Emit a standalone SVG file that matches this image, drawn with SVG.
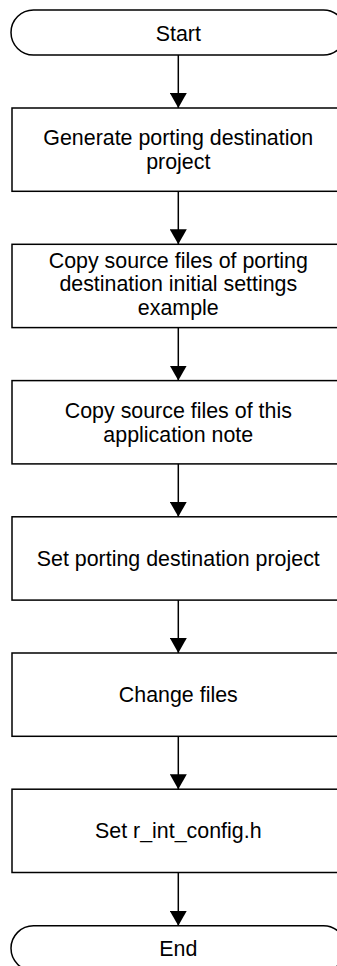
<svg xmlns="http://www.w3.org/2000/svg" width="337" height="966" viewBox="0 0 337 966">
<style>
.shape{fill:#fff;stroke:#000;stroke-width:1.5}
.lbl{font-family:"Liberation Sans",Arial,sans-serif;font-size:21.4px;fill:#000;text-anchor:middle}
.conn{stroke:#000;stroke-width:1.5;fill:none}
</style>
<defs>
<marker id="arr" markerUnits="userSpaceOnUse" markerWidth="16" markerHeight="17" refX="15" refY="8.5" orient="auto" viewBox="0 0 16 17">
<path d="M0,0 L15,8.5 L0,17 Z" fill="#000"/>
</marker>
</defs>
<rect width="337" height="966" fill="#fff"/>
<g id="start">
<rect class="shape" x="11" y="10" width="335" height="45" rx="22.5" ry="22.5"/>
<text class="lbl" x="178.3" y="40.5">Start</text>
</g>
<g id="n1">
<rect class="shape" x="12" y="108" width="333" height="83.3"/>
<text class="lbl" x="178.3" y="145">Generate porting destination</text>
<text class="lbl" x="178.3" y="168.5">project</text>
</g>
<g id="n2">
<rect class="shape" x="12" y="244.3" width="333" height="83.3"/>
<text class="lbl" x="178.3" y="267.7">Copy source files of porting</text>
<text class="lbl" x="178.3" y="291.3">destination initial settings</text>
<text class="lbl" x="178.3" y="315">example</text>
</g>
<g id="n3">
<rect class="shape" x="12" y="380.6" width="333" height="83.3"/>
<text class="lbl" x="178.3" y="418">Copy source files of this</text>
<text class="lbl" x="178.3" y="441.5">application note</text>
</g>
<g id="n4">
<rect class="shape" x="12" y="516.8" width="333" height="83.3"/>
<text class="lbl" x="178.3" y="565.5">Set porting destination project</text>
</g>
<g id="n5">
<rect class="shape" x="12" y="653" width="333" height="83.3"/>
<text class="lbl" x="178.3" y="701.7">Change files</text>
</g>
<g id="n6">
<rect class="shape" x="12" y="789.2" width="333" height="83.3"/>
<text class="lbl" x="178.3" y="838">Set r_int_config.h</text>
</g>
<g id="end">
<rect class="shape" x="11" y="925.8" width="335" height="45" rx="22.5" ry="22.5"/>
<text class="lbl" x="178.3" y="955.5">End</text>
</g>
<g id="connectors">
<line class="conn" x1="178.3" y1="55" x2="178.3" y2="108" marker-end="url(#arr)"/>
<line class="conn" x1="178.3" y1="191.3" x2="178.3" y2="244.3" marker-end="url(#arr)"/>
<line class="conn" x1="178.3" y1="327.6" x2="178.3" y2="380.6" marker-end="url(#arr)"/>
<line class="conn" x1="178.3" y1="463.9" x2="178.3" y2="516.8" marker-end="url(#arr)"/>
<line class="conn" x1="178.3" y1="600.1" x2="178.3" y2="653" marker-end="url(#arr)"/>
<line class="conn" x1="178.3" y1="736.3" x2="178.3" y2="789.2" marker-end="url(#arr)"/>
<line class="conn" x1="178.3" y1="872.5" x2="178.3" y2="925.8" marker-end="url(#arr)"/>
</g>
</svg>
